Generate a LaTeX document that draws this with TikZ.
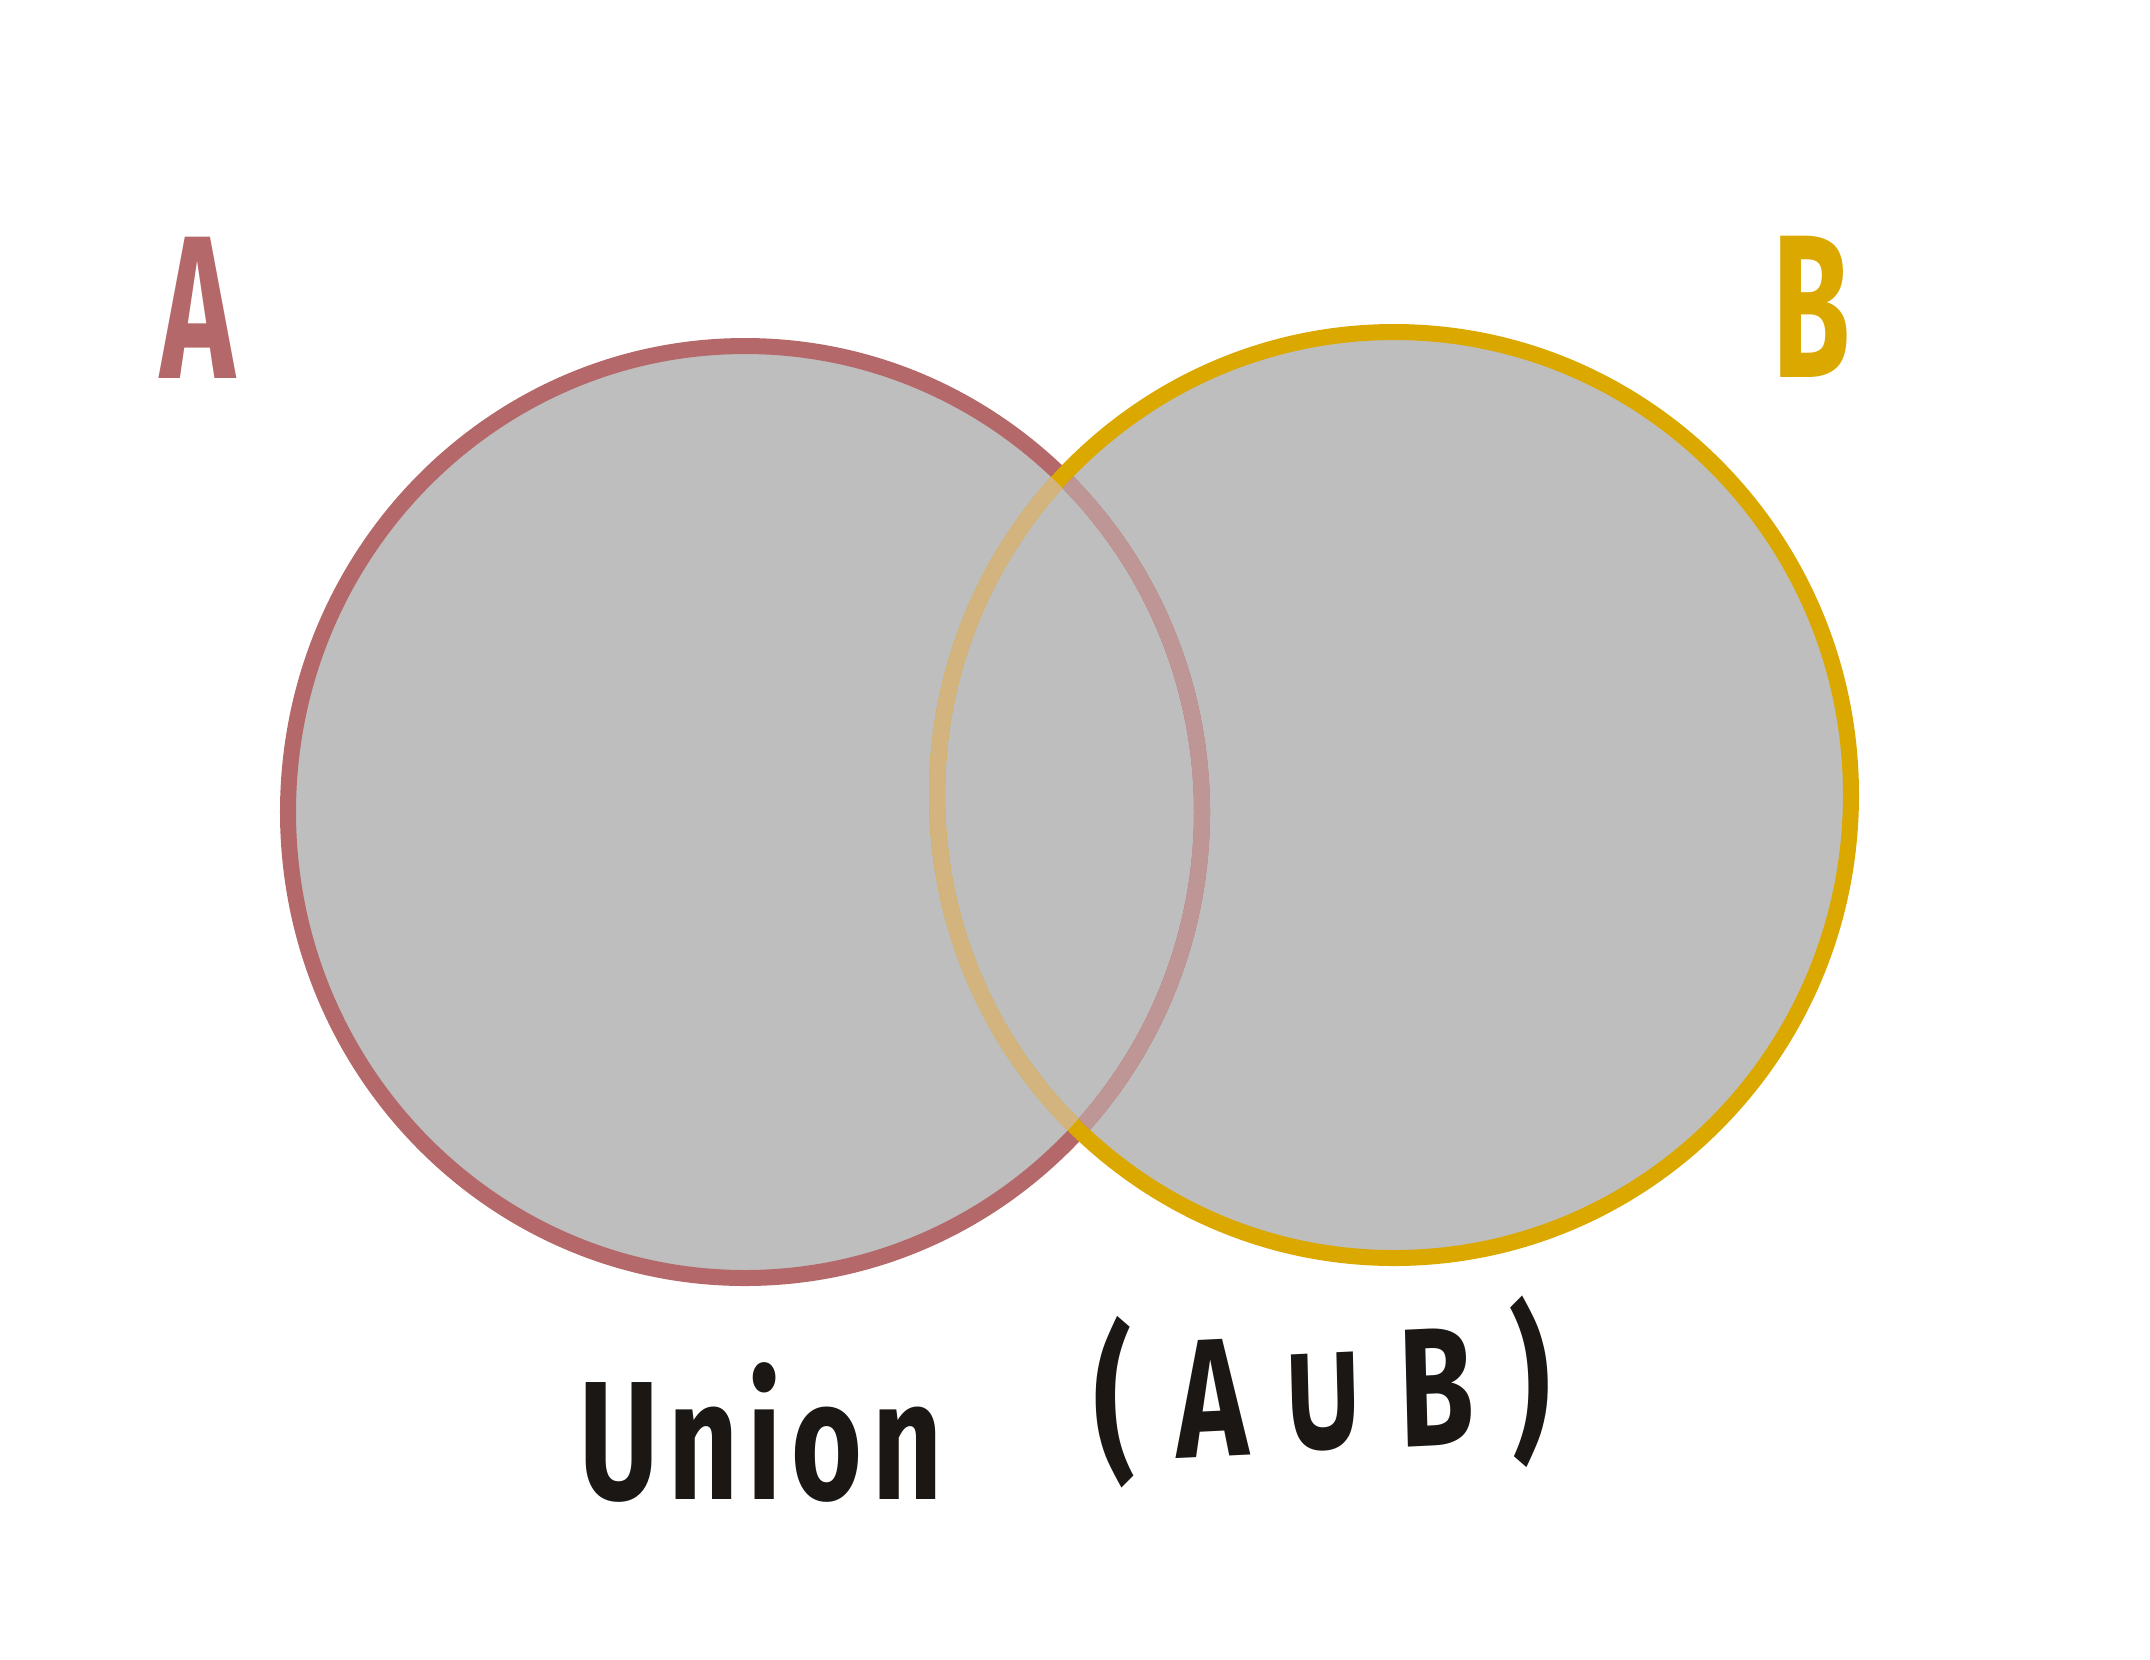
\documentclass[tikz,border=0pt]{standalone}
\usepackage{fontspec}
\setmainfont{Fira Sans}
\newfontfamily\symfont{DejaVu Sans}
\definecolor{apink}{HTML}{B56869}
\definecolor{bgold}{HTML}{DBA800}
\definecolor{apinkm}{HTML}{BF9696}
\definecolor{bgoldm}{HTML}{D3B47F}
\definecolor{setfill}{HTML}{BEBEBE}
\definecolor{ink}{HTML}{1A1714}
\tikzset{
  ring/.style={line width=0.16cm},
  setlabel/.style={font=\fontsize{58}{60}\selectfont\bfseries, inner sep=0pt, xscale=0.62},
  caption/.style={font=\fontsize{48}{52}\selectfont\bfseries, text=ink, inner sep=0pt, xscale=0.72}
}
\begin{document}
\begin{tikzpicture}[x=0.01cm,y=-0.01cm]
\useasboundingbox (0,0) rectangle (2150,1659);
% fills
\fill[setfill] (745,812) ellipse [x radius=457, y radius=466];
\fill[setfill] (1394,795) ellipse [x radius=457, y radius=463];
% full strokes
\draw[ring, apink] (745,812) ellipse [x radius=457, y radius=466];
\draw[ring, bgold] (1394,795) ellipse [x radius=457, y radius=463];
% muted parts inside the other set
\begin{scope}
  \clip (1394,795) ellipse [x radius=449, y radius=455];
  \draw[ring, apinkm] (745,812) ellipse [x radius=457, y radius=466];
\end{scope}
\begin{scope}
  \clip (745,812) ellipse [x radius=449, y radius=458];
  \draw[ring, bgoldm] (1394,795) ellipse [x radius=457, y radius=463];
\end{scope}
% labels
\node[setlabel, text=apink] (la) at (198,308) {A};
\node[setlabel, text=bgold] (lb) at (1812,307) {B};
\node[caption] (un) at (761,1432) {\addfontfeature{LetterSpace=8}Union};
\node[caption, rotate=2] (ab) at (1322,1392) {(\hspace{0.35em}A\hspace{0.22em}{\symfont ∪}\hspace{0.22em}B\hspace{0.3em})};
\end{tikzpicture}
\end{document}
